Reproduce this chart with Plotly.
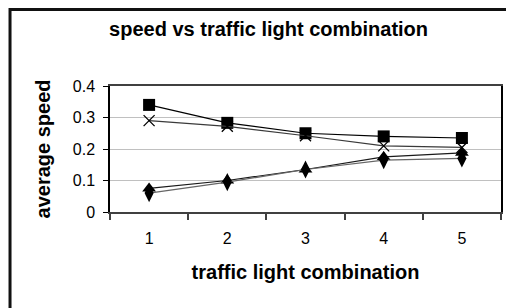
import plotly.graph_objects as go

categories = ["1", "2", "3", "4", "5"]
series_square = [0.34, 0.283, 0.25, 0.24, 0.235]
series_cross = [0.29, 0.272, 0.242, 0.21, 0.205]
series_triangle = [0.075, 0.1, 0.135, 0.175, 0.188]
series_diamond = [0.06, 0.095, 0.135, 0.165, 0.17]
y_ticks = [0, 0.1, 0.2, 0.3, 0.4]
y_tick_labels = ["0", "0.1", "0.2", "0.3", "0.4"]

FONT = "Arial, Liberation Sans, sans-serif"

fig = go.Figure()
specs = [
    (series_square, "square", 12, "#000000", None),
    (series_cross, "x-thin-open", 11, "#3a3a3a", 1.3),
    (series_triangle, "triangle-up", 12, "#1a1a1a", None),
    (series_diamond, "diamond-tall", 13, "#666666", None),
]
for vals, sym, size, lc, mlw in specs:
    marker = dict(symbol=sym, size=size, color="#000000")
    if mlw:
        marker["line"] = dict(color="#000000", width=mlw)
    else:
        marker["line"] = dict(width=0)
    fig.add_trace(go.Scatter(
        x=categories, y=vals, mode="lines+markers",
        line=dict(color=lc, width=1.2),
        marker=marker, showlegend=False,
    ))

fig.update_layout(
    width=506, height=300,
    margin=dict(l=102, r=11, t=78, b=96),
    paper_bgcolor="white", plot_bgcolor="white",
    font=dict(family=FONT, color="#000000"),
    title=dict(text="<b>speed vs traffic light combination</b>",
               x=0.515, xanchor="center", y=0.93, yanchor="middle",
               font=dict(size=20, family=FONT)),
    xaxis=dict(
        type="category", range=[-0.5, len(categories) - 0.5],
        tickson="boundaries", ticks="outside", ticklen=6,
        tickcolor="#404040", tickwidth=1.5,
        showline=True, linecolor="#404040", linewidth=2, mirror=True,
        showgrid=False, tickfont=dict(size=16), ticklabelstandoff=11,
        title=dict(text="<b>traffic light combination</b>", standoff=19,
                   font=dict(size=20)),
    ),
    yaxis=dict(
        range=[0, 0.4], tickvals=y_ticks, ticktext=y_tick_labels,
        ticks="outside", ticklen=5, tickcolor="#000000",
        showline=True, linecolor="#000000", linewidth=1.5, mirror=True,
        showgrid=True, gridcolor="#c0c0c0", gridwidth=1, zeroline=False,
        tickfont=dict(size=16), ticklabelstandoff=5,
        title=dict(text="<b>average speed</b>", standoff=17,
                   font=dict(size=20)),
    ),
    shapes=[dict(type="rect", xref="paper", yref="paper",
                 x0=-0.2557, x1=1.3, y0=-1.2, y1=1.607,
                 line=dict(color="#111111", width=3), layer="below")],
)

fig.write_html("out.html")
